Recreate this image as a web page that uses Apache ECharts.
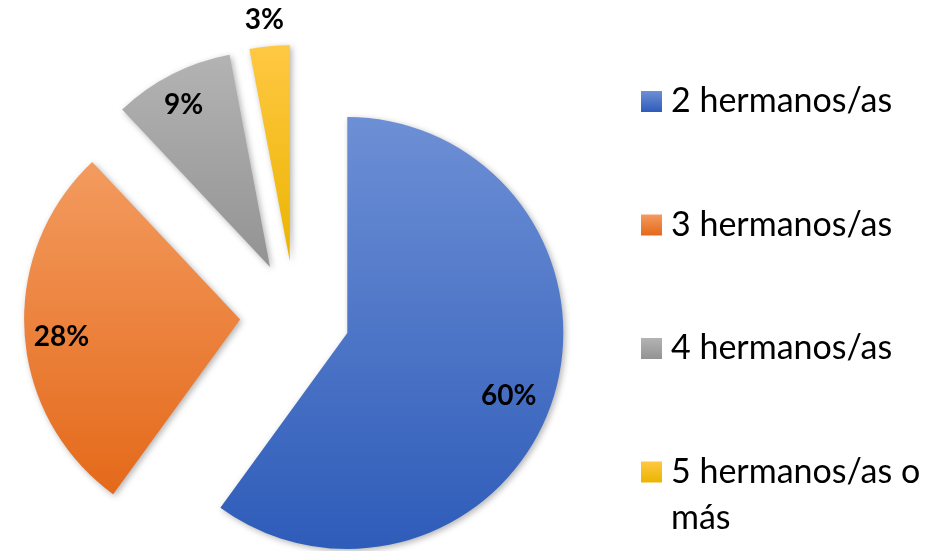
<!DOCTYPE html>
<html>
<head>
<meta charset="utf-8">
<script src="https://cdn.jsdelivr.net/npm/echarts@6/dist/echarts.min.js"></script>
<style>
  html, body { margin: 0; padding: 0; background: #fff; }
  #hermanos-pie { width: 930px; height: 551px; }
</style>
</head>
<body>
<div id="hermanos-pie"></div>
<script>
// datos del gráfico
const categories = ['2 hermanos/as', '3 hermanos/as', '4 hermanos/as', '5 hermanos/as o más']
const shares = [60, 28, 9, 3]

// colores (arriba -> abajo, degradado estilo Office)
const topColors = ['#6d8fd5', '#f39b5f', '#b3b3b3', '#ffc843']
const bottomColors = ['#2e5cb9', '#e4691a', '#939393', '#ebb400']

const center = [295, 316]
const explode = 55
// pequeños ajustes de las etiquetas de porcentaje (el 3% va fuera, encima)
const labelNudge = [[-5, 9], [-4, 7], [-7, -6], [-9, -67]]

function grad(i) {
  return new echarts.graphic.LinearGradient(0, 0, 0, 1, [
    { offset: 0, color: topColors[i] },
    { offset: 1, color: bottomColors[i] }
  ])
}

const chart = echarts.init(document.getElementById('hermanos-pie'))

chart.setOption({
  animation: false,
  textStyle: { fontFamily: 'Lato' },
  legend: {
    orient: 'vertical',
    left: 641,
    top: 32.5,
    height: 515,
    padding: 0,
    itemWidth: 21,
    itemHeight: 21,
    itemGap: -14.5,
    icon: 'rect',
    data: categories,
    // tres líneas por elemento para que la primera línea de texto quede junto al icono
    formatter: name => name.indexOf(' o más') >= 0
      ? '\n' + name.replace(' o más', ' o\nmás')
      : '\n' + name + '\n',
    textStyle: {
      fontFamily: 'Lato',
      fontSize: 34,
      lineHeight: 46,
      color: '#000',
      padding: [0, 0, 0, 4]
    }
  },
  series: [{
    // sectores
    name: 'hermanos',
    type: 'pie',
    z: 2,
    center: center,
    radius: 216,
    startAngle: 90,
    clockwise: true,
    selectedMode: 'multiple',
    selectedOffset: explode,
    silent: true,
    label: { show: false },
    labelLine: { show: false },
    emphasis: { scale: false },
    itemStyle: {
      shadowBlur: 6,
      shadowOffsetX: 2,
      shadowOffsetY: 2,
      shadowColor: 'rgba(0,0,0,0.3)'
    },
    data: categories.map((c, i) => ({
      name: c,
      value: shares[i],
      selected: true,
      itemStyle: { color: grad(i) }
    }))
  }, {
    // etiquetas de porcentaje
    name: 'etiquetas',
    type: 'pie',
    z: 5,
    center: center,
    radius: 344,
    startAngle: 90,
    clockwise: true,
    selectedMode: 'multiple',
    selectedOffset: explode,
    silent: true,
    avoidLabelOverlap: false,
    itemStyle: { color: 'transparent' },
    label: {
      show: true,
      position: 'inside',
      formatter: '{c}%',
      fontFamily: 'Lato',
      fontWeight: 'bold',
      fontSize: 28,
      color: '#000'
    },
    labelLine: { show: false },
    labelLayout: function (p) {
      const n = labelNudge[p.dataIndex] || [0, 0]
      return { dx: n[0], dy: n[1] }
    },
    emphasis: { disabled: true },
    data: categories.map((c, i) => ({
      name: c,
      value: shares[i],
      selected: true
    }))
  }]
})
</script>
</body>
</html>
